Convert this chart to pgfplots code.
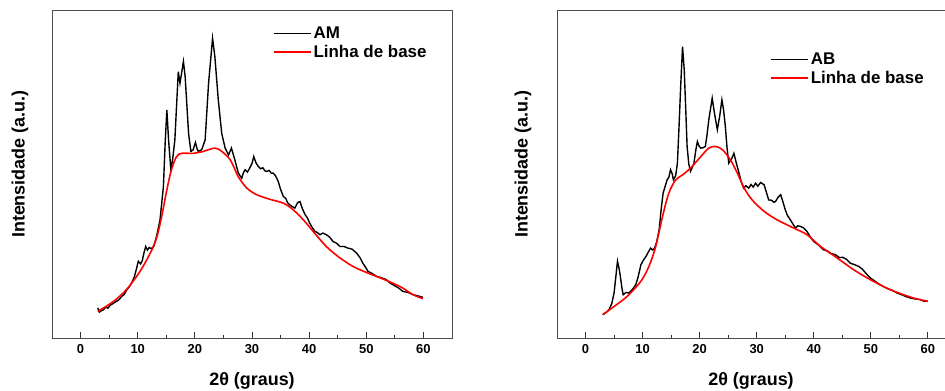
\documentclass[border=0pt]{standalone}
\usepackage{pgfplots}
\pgfplotsset{compat=1.18}
\usepackage{fontspec}
\setmainfont{Liberation Sans}
\pgfplotsset{
  legend image code/.code={\draw[#1] (0bp,0bp) -- (37bp,0bp);},
  xrdstyle/.style={
    scale only axis, height=328bp, ymin=0, ymax=100,
    axis line style={draw=black!70, line width=0.9pt},
    ytick=\empty, xtick={0,10,...,60}, minor x tick num=1,
    xtick pos=bottom, tick align=inside,
    major tick length=6bp, minor tick length=3bp,
    tick style={black!80, line width=0.8pt},
    /pgf/number format/assume math mode=true,
    tick label style={font=\bfseries\fontsize{13}{15}\selectfont},
    xticklabel style={yshift=-3bp},
    label style={font=\bfseries\fontsize{18}{21}\selectfont},
    xlabel={2θ (graus)},
    ylabel={Intensidade (a.u.)},
    xlabel style={at={(axis description cs:0.5,-0.131)}, anchor=center},
    legend style={draw=none, fill=none, font=\bfseries\fontsize{17}{20}\selectfont, row sep=1bp,
      legend cell align=left, inner sep=0pt},
  }
}
\begin{document}
\begin{tikzpicture}
\useasboundingbox (0,0) rectangle (945bp,391bp);
\begin{axis}[xrdstyle, at={(52bp,53bp)}, anchor=south west, width=400bp,
  xmin=-5, xmax=65,
  ylabel style={at={(axis description cs:-0.08,0.53)}, anchor=center},
  legend style={at={(axis description cs:0.552,0.955)}, anchor=north west}]
\addplot[black, line width=1.4pt] coordinates {
(3.0,9.2)(3.3,7.9)(3.6,8.3)(4.0,8.6)(4.4,9.4)(4.8,9.1)(5.2,10.0)(5.6,10.4)(6.0,10.9)(6.4,11.3)(6.8,11.8)
(7.2,12.7)(7.6,13.2)(8.1,14.7)(8.6,15.8)(9.0,17.0)(9.4,18.6)(9.8,21.2)(10.1,23.4)(10.5,22.6)(10.8,23.6)
(11.1,26.0)(11.4,27.9)(11.7,26.8)(12.0,27.6)(12.4,27.2)(12.8,27.9)
(13.3,31.0)(13.9,36.0)(14.5,46.2)(14.8,59.4)(15.1,69.5)(15.4,60.4)(15.8,51.3)(16.1,54.3)(16.5,60.4)
(17.1,81.2)(17.4,77.7)(18.0,84.3)(18.3,79.7)(18.9,62.4)(19.3,56.9)(19.7,57.4)(20.1,59.6)(20.4,57.6)(20.6,56.9)
(21.2,57.4)(21.8,60.4)(22.4,77.7)(23.1,91.4)(23.5,85.8)(24.1,72.6)(24.7,62.4)(25.3,57.9)(25.9,55.8)
(26.4,57.9)(27.0,54.3)(27.6,50.3)(28.2,48.7)(28.5,50.4)(28.8,51.3)(29.2,50.6)(29.6,51.8)(30.0,53.2)(30.3,55.3)(30.7,53.4)(31.1,52.3)
(31.5,51.6)(31.9,51.9)(32.3,50.9)(32.6,50.8)(33.0,51.1)(33.4,50.2)(33.7,50.3)(34.1,49.5)(34.6,47.7)(35.0,45.3)(35.5,43.1)
(35.9,42.6)(36.2,41.3)(36.6,40.6)(37.0,40.1)(37.5,39.6)(38.0,41.3)(38.4,41.6)(38.8,39.5)(39.3,37.6)(39.7,36.6)(40.1,35.0)
(40.5,33.8)(41.0,32.5)(41.4,32.2)(41.9,31.5)(42.4,32.0)(43.0,31.5)(43.5,30.9)(44.2,29.4)(44.8,28.9)(45.4,27.9)
(46.1,27.9)(46.8,27.4)(47.5,27.1)(48.3,25.9)(48.9,24.5)(49.4,22.8)(49.9,21.5)(50.3,20.3)(51.0,19.7)(51.8,18.8)
(52.6,18.4)(53.5,17.8)(54.2,16.7)(55.0,15.9)(55.7,15.2)(56.4,14.2)(57.3,13.9)(58.2,13.2)(59.1,12.8)(59.9,12.4)};
\addlegendentry{AM}
\addplot[red, line width=1.6pt, smooth] coordinates {
(3.0,8.1)(5.8,11.2)(8.1,14.9)(10.4,20.3)(12.2,25.9)(13.3,30.5)(14.2,37.1)(15.1,45.2)(15.9,51.3)
(16.8,55.3)(17.7,56.3)(19.7,56.3)(21.5,56.9)(23.5,57.9)(24.7,56.9)(26.2,54.3)(27.6,49.2)(29.1,45.7)
(30.8,43.7)(33.1,42.3)(35.5,41.1)(37.2,39.1)(39.0,36.0)(40.7,32.5)(43.0,27.9)(45.4,24.4)(47.7,21.8)
(50.0,20.0)(52.9,18.0)(55.9,15.7)(58.2,13.2)(59.9,12.0)};
\addlegendentry{Linha de base}
\end{axis}
\begin{axis}[xrdstyle, at={(557bp,53bp)}, anchor=south west, width=388bp,
  xmin=-5, xmax=63,
  ylabel style={at={(axis description cs:-0.088,0.53)}, anchor=center},
  legend style={at={(axis description cs:0.549,0.875)}, anchor=north west}]
\addplot[black, line width=1.4pt] coordinates {
(3.0,7.1)(3.6,7.8)(4.1,8.6)(4.6,10.5)(5.0,13.7)(5.3,18.5)(5.6,23.4)(5.9,21.0)(6.1,18.8)(6.4,15.0)(6.6,13.2)(7.1,13.9)(7.6,13.7)
(8.2,14.8)(8.8,16.2)(9.2,18.5)(9.7,22.3)(10.1,23.6)(10.6,24.9)(11.0,26.2)(11.4,27.4)(11.8,26.8)(12.1,27.4)
(12.5,29.5)(12.9,33.0)(13.3,40.0)(13.6,44.2)(14.0,46.5)(14.3,48.2)(14.6,49.0)(14.9,51.3)(15.2,50.0)(15.4,48.2)(15.8,49.5)(16.1,53.3)(16.4,65.0)(16.7,77.7)
(17.0,88.8)(17.3,81.7)(17.6,68.0)(17.8,58.4)(18.1,53.0)(18.4,50.8)(18.7,52.0)(19.0,53.3)(19.3,57.0)(19.6,59.9)(19.9,58.5)(20.2,57.9)(20.6,58.0)(21.0,58.4)(21.3,62.0)(21.6,66.5)
(22.2,73.1)(22.6,68.5)(23.1,63.5)(23.5,67.5)(23.9,72.6)(24.2,69.5)(24.5,64.5)(24.8,58.0)(25.1,53.3)(25.6,54.6)(26.0,56.3)(26.4,53.5)(26.9,50.3)(27.3,47.6)(27.7,45.7)(28.1,46.4)(28.6,45.7)
(29.0,46.8)(29.4,46.0)(29.8,47.2)(30.2,46.3)(30.7,47.4)(31.3,46.7)(31.7,44.4)(32.1,42.1)(32.6,42.0)(33.0,41.4)(33.3,41.6)(33.7,42.8)(34.2,43.7)(34.6,41.5)(35.0,39.1)
(35.4,37.3)(35.9,36.0)(36.3,34.9)(36.8,33.5)(37.2,34.2)(37.7,34.0)(38.2,33.6)(38.8,32.5)(39.4,30.8)(40.0,29.4)(40.8,28.4)(41.7,26.9)(42.3,26.6)(43.0,25.8)(43.8,25.4)(44.5,24.5)
(45.1,24.6)(45.8,23.9)(46.4,22.8)(47.1,22.4)(47.9,21.8)(48.5,21.0)(49.2,19.6)(49.9,18.3)(50.6,17.5)(51.4,16.5)(52.2,15.7)(53.0,15.0)(53.8,14.5)(54.6,13.7)(55.4,13.2)(56.2,12.6)
(56.9,12.2)(57.8,11.9)(58.7,11.7)(59.3,11.2)(60.0,11.2)};
\addlegendentry{AB}
\addplot[red, line width=1.6pt, smooth] coordinates {
(3.0,7.1)(5.0,9.6)(7.3,12.7)(9.7,17.3)(11.1,21.8)(12.3,27.9)(13.5,37.1)(14.6,44.2)(15.8,48.2)
(17.0,49.7)(18.4,51.8)(20.2,55.3)(21.6,57.9)(22.8,58.4)(24.0,57.4)(25.4,54.3)(26.6,50.3)(27.8,45.7)
(29.2,42.1)(31.3,38.6)(33.6,36.0)(36.5,33.5)(38.8,31.5)(41.2,27.9)(44.1,24.4)(47.0,20.8)(49.9,17.8)
(52.8,15.2)(55.7,13.2)(58.1,11.9)(60.0,11.2)};
\addlegendentry{Linha de base}
\end{axis}
\end{tikzpicture}
\end{document}
